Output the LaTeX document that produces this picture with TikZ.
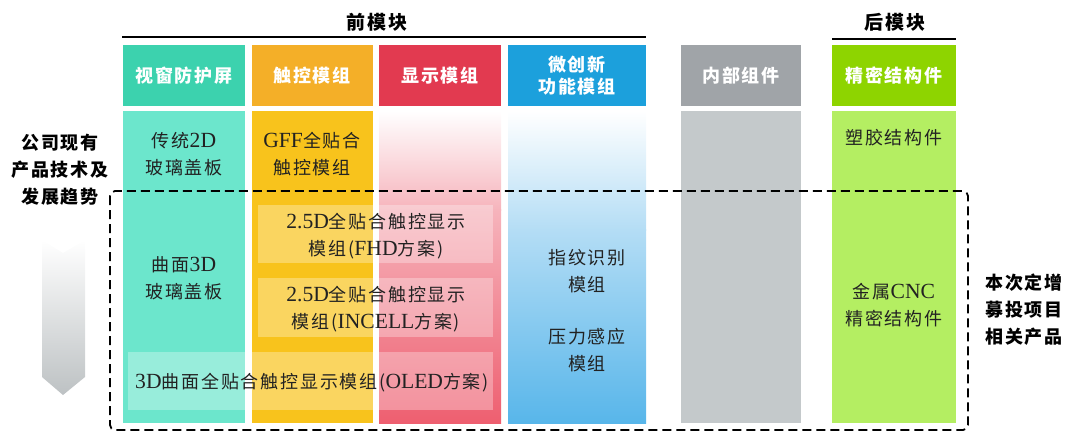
\documentclass[tikz,border=0pt]{standalone}
\usepackage{fontspec}
\setmainfont{Noto Sans CJK SC}[LetterSpace=10]
\newfontfamily\lat{Liberation Serif}[Scale=1.2]
\usetikzlibrary{shapes.geometric}
\definecolor{tealH}{HTML}{3CD2AE}
\definecolor{tealB}{HTML}{6CE6CC}
\definecolor{oraH}{HTML}{F4AF28}
\definecolor{oraB}{HTML}{F8C31C}
\definecolor{redH}{HTML}{E23A50}
\definecolor{redB}{HTML}{EE5F70}
\definecolor{redM}{HTML}{F6B4BC}
\definecolor{bluH}{HTML}{1CA0DC}
\definecolor{bluB}{HTML}{58B6EA}
\definecolor{bluM}{HTML}{B4DDF5}
\definecolor{gryH}{HTML}{A0A4A8}
\definecolor{gryB}{HTML}{C4C9CB}
\definecolor{grnH}{HTML}{8ED400}
\definecolor{grnB}{HTML}{B4EE62}
\definecolor{txt}{HTML}{222222}
\tikzset{
  head/.style={font=\bfseries\fontsize{18}{22}\selectfont, text=white, align=center, inner sep=0pt},
  body/.style={font=\fontsize{18}{27}\selectfont, text=txt, align=center, inner sep=0pt},
  side/.style={font=\bfseries\fontsize{18}{27}\selectfont, text=black, align=center, inner sep=0pt},
  veil/.style={fill=white, fill opacity=0.3, draw=none},
}
\begin{document}
\begin{tikzpicture}[x=1pt,y=-1pt]
\useasboundingbox (0,0) rectangle (1088,432);
% header bars
\fill[tealH] (123,45) rectangle (245,106);
\fill[oraH] (252,45) rectangle (373,106);
\fill[redH] (379,45) rectangle (501,106);
\fill[bluH] (508,45) rectangle (646,106);
\fill[gryH] (681,45) rectangle (801,106);
\fill[grnH] (832,45) rectangle (956,106);
% bodies
\fill[tealB] (123,111) rectangle (245,423);
\fill[oraB] (252,111) rectangle (373,423);
\shade[top color=white, bottom color=redM] (379,111) rectangle (501,210);
\shade[top color=redM, bottom color=redB] (379,209) rectangle (501,423);
\shade[top color=white, bottom color=bluM] (508,111) rectangle (646,230);
\shade[top color=bluM, bottom color=bluB] (508,229) rectangle (646,423);
\fill[gryB] (681,111) rectangle (801,423);
\fill[grnB] (832,111) rectangle (956,423);
% header texts
\node[head] (h1) at (184,76) {视窗防护屏};
\node[head] (h2) at (312,76) {触控模组};
\node[head] (h3) at (440,76) {显示模组};
\node[head] (h4) at (577,76) {微创新\\功能模组};
\node[head] (h5) at (741,76) {内部组件};
\node[head] (h6) at (894,76) {精密结构件};
% group labels
\node[font=\bfseries\fontsize{19}{20}\selectfont] (front) at (377,22) {前模块};
\draw[line width=1.6pt] (122,37) -- (646,37);
\node[font=\bfseries\fontsize{19}{20}\selectfont] (back) at (895,22) {后模块};
\draw[line width=1.6pt] (832,39) -- (956,39);
% veils
\fill[veil] (258,205) rectangle (493,263);
\fill[veil] (258,278) rectangle (493,337);
\fill[veil] (128,352) rectangle (493,410);
% body texts
\node[body] (t1) at (184,154) {传统{\lat 2D}\\玻璃盖板};
\node[body] (t2) at (312,154) {{\lat GFF}全贴合\\触控模组};
\node[body] (t3) at (184,278) {曲面{\lat 3D}\\玻璃盖板};
\node[body] (t4) at (376,236) {{\lat 2.5D}全贴合触控显示\\模组({\lat FHD}方案)};
\node[body] (t5) at (376,309) {{\lat 2.5D}全贴合触控显示\\模组({\lat INCELL}方案)};
\node[body] (t6) at (312,383) {{\lat 3D}曲面全贴合触控显示模组({\lat OLED}方案)};
\node[body] (t7) at (587,271) {指纹识别\\模组};
\node[body] (t8) at (587,350) {压力感应\\模组};
\node[body] (t9) at (894,138) {塑胶结构件};
\node[body] (t10) at (894,305) {金属{\lat CNC}\\精密结构件};
% side labels
\node[side] (l1) at (60,170) {公司现有\\产品技术及\\发展趋势};
\node[side] (r1) at (1024,310) {本次定增\\募投项目\\相关产品};
% dashed box
\draw[dashed, line width=1.8pt, dash pattern=on 9pt off 5pt, rounded corners=5pt] (110,191) rectangle (968,430);
% arrow
\shade[top color=white, bottom color=gryB!90!gray] (42,240) -- (63,253) -- (85,240) -- (85,377) -- (63,395) -- (42,377) -- cycle;
\end{tikzpicture}
\end{document}
